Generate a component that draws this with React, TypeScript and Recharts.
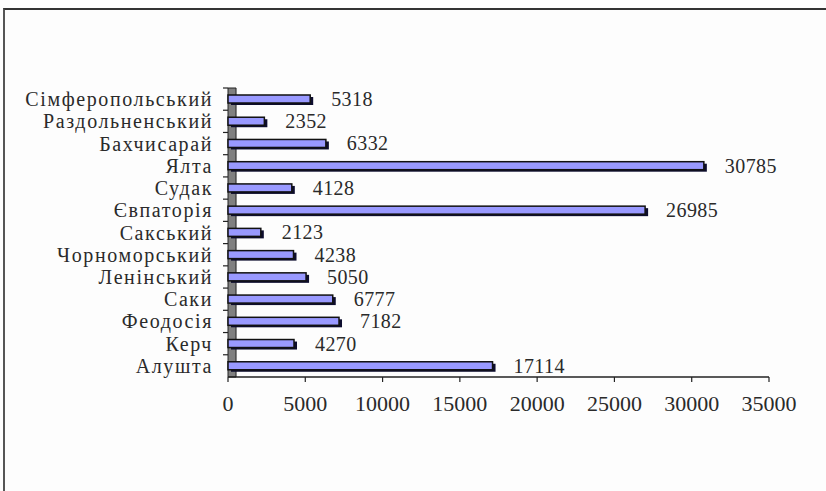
import { BarChart, Bar, XAxis, YAxis, LabelList, ReferenceArea } from 'recharts'

const districts = [
  'Сімферопольський',
  'Раздольненський',
  'Бахчисарай',
  'Ялта',
  'Судак',
  'Євпаторія',
  'Сакський',
  'Чорноморський',
  'Ленінський',
  'Саки',
  'Феодосія',
  'Керч',
  'Алушта',
]

const counts = [5318, 2352, 6332, 30785, 4128, 26985, 2123, 4238, 5050, 6777, 7182, 4270, 17114]

const xTicks = [0, 5000, 10000, 15000, 20000, 25000, 30000, 35000]

const data = districts.map((name, i) => ({ name, value: counts[i] }))

const FONT = 'Liberation Serif'

// bar with a dark drop shadow, like the old Excel 3D look
const ShadowBar = (props: any) => {
  const { x, y, width, height } = props
  if (!width || width <= 0) return null
  return (
    <g>
      <rect x={x + 3} y={y + 2} width={width} height={height} fill="#0d0d2e" />
      <rect x={x} y={y} width={width} height={height} fill="#9999ff" stroke="#111" strokeWidth={1.5} />
    </g>
  )
}

const CategoryTick = (props: any) => {
  const { x, y, payload } = props
  const half = payload?.offset ?? 11
  return (
    <g>
      <line x1={x + 10} x2={x + 15} y1={y - half} y2={y - half} stroke="#222" strokeWidth={1.2} />
      <text x={x} y={y} dy={7} textAnchor="end" fontSize={20} letterSpacing={1.6} fontFamily={FONT} fill="#2a2a2a">
        {payload.value}
      </text>
    </g>
  )
}

const ValueLabel = (props: any) => {
  const { x, y, width, height, value } = props
  return (
    <text x={x + width + 21} y={y + height / 2} dy={7} fontSize={20} letterSpacing={0.4} fontFamily={FONT} fill="#2a2a2a">
      {value}
    </text>
  )
}

export default function App() {
  return (
    <div style={{ position: 'absolute', left: 0, top: 0, width: 826, height: 491, background: '#fdfdfd', overflow: 'hidden' }}>
      <div
        style={{
          position: 'absolute',
          left: 3,
          top: 8,
          width: 840,
          height: 500,
          borderTop: '2px solid #333',
          borderLeft: '2px solid #555',
        }}
      />
      <BarChart
        width={826}
        height={491}
        data={data}
        layout="vertical"
        margin={{ top: 88, right: 57, bottom: 74, left: 0 }}
        barSize={8}
        style={{ position: 'absolute', left: 0, top: 0 }}
      >
        <ReferenceArea x1={0} x2={520} fill="#808080" fillOpacity={1} stroke="#222" strokeWidth={1} ifOverflow="extendDomain" />
        <XAxis
          type="number"
          domain={[0, 35000]}
          ticks={xTicks}
          interval={0}
          axisLine={{ stroke: '#222', strokeWidth: 1.5 }}
          tickLine={{ stroke: '#222', strokeWidth: 1.2 }}
          tickSize={5}
          tickMargin={13}
          height={40}
          tick={{ fontSize: 22, fontFamily: FONT, fill: '#2a2a2a' }}
        />
        <YAxis
          type="category"
          dataKey="name"
          width={228}
          axisLine={false}
          tickLine={false}
          tickSize={0}
          tickMargin={15}
          interval={0}
          tick={<CategoryTick />}
        />
        <Bar dataKey="value" shape={<ShadowBar />} isAnimationActive={false}>
          <LabelList dataKey="value" content={<ValueLabel />} />
        </Bar>
      </BarChart>
    </div>
  )
}
